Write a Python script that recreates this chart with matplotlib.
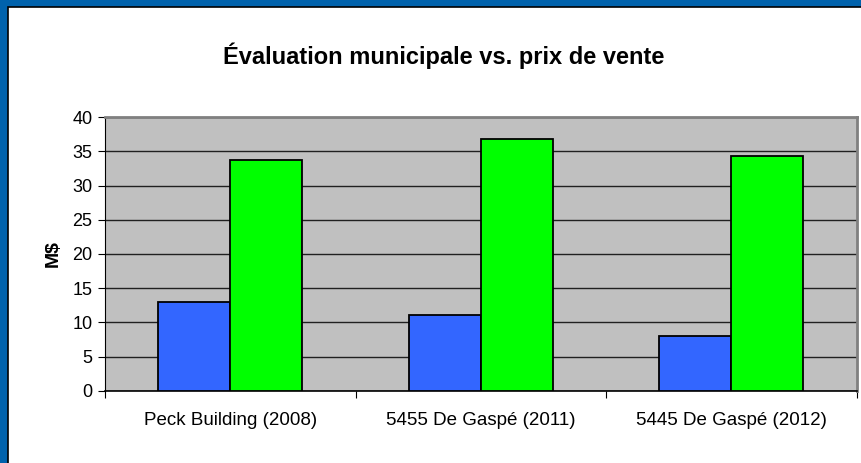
import matplotlib
matplotlib.use("Agg")
import matplotlib.pyplot as plt
from matplotlib.patches import Rectangle
import numpy as np

plt.rcParams['font.family'] = ['Liberation Sans', 'DejaVu Sans']

categories = ["Peck Building (2008)", "5455 De Gaspé (2011)", "5445 De Gaspé (2012)"]
evaluation = [13.0, 11.1, 8.0]
prix_vente = [33.8, 36.8, 34.4]
yticks = [0, 5, 10, 15, 20, 25, 30, 35, 40]

W, H = 861, 463
fig = plt.figure(figsize=(W / 100, H / 100), dpi=100)
fig.patch.set_facecolor("white")

# blue frame (left and top), black inner line
frame_blue = "#0062AC"
fig.patches.append(Rectangle((0, 0), 1, 1, transform=fig.transFigure,
                             facecolor=frame_blue, edgecolor="none", zorder=-3))
fig.patches.append(Rectangle((8 / W, -0.05), 1.1, (H - 7) / H + 0.05, transform=fig.transFigure,
                             facecolor="white", edgecolor="black", linewidth=1.2, zorder=-2))

ax = fig.add_axes([105 / W, 1 - 390.7 / H, (856.5 - 105) / W, (390.7 - 117.3) / H])
ax.set_facecolor("#C0C0C0")

x = np.arange(len(categories))
bw = 0.287
ax.bar(x - bw / 2, evaluation, bw, color="#3366FF", edgecolor="black", linewidth=1.3, zorder=3)
ax.bar(x + bw / 2, prix_vente, bw, color="#00FF00", edgecolor="black", linewidth=1.3, zorder=3)

ax.set_xlim(-0.5, len(categories) - 0.5)
ax.set_ylim(0, 40)
ax.set_yticks(yticks)
ax.set_yticklabels([str(v) for v in yticks], fontsize=13)
ax.yaxis.grid(True, color="#202020", linewidth=1.0, zorder=1)
ax.set_axisbelow(True)

ax.set_xticks(np.arange(len(categories) + 1) - 0.5)
ax.set_xticklabels([])
ax.set_xticks(x, minor=True)
ax.set_xticklabels(categories, minor=True, fontsize=13.5)
ax.tick_params(axis="x", which="minor", length=0, pad=15)
ax.tick_params(axis="x", which="major", length=5, direction="out", color="black")
ax.tick_params(axis="y", length=5, direction="out", color="black", pad=4)

for s in ["top", "right"]:
    ax.spines[s].set_color("#808080")
    ax.spines[s].set_linewidth(2)
ax.spines["left"].set_color("black")
ax.spines["bottom"].set_color("black")
ax.spines["bottom"].set_linewidth(1.2)

ax.set_ylabel("M$", fontsize=14, fontweight="bold", labelpad=8)

fig.text(444 / W, 1 - 56 / H, "Évaluation municipale vs. prix de vente",
         ha="center", va="center", fontsize=17, fontweight="bold")

fig.savefig("out.png", dpi=100, facecolor=fig.get_facecolor())
